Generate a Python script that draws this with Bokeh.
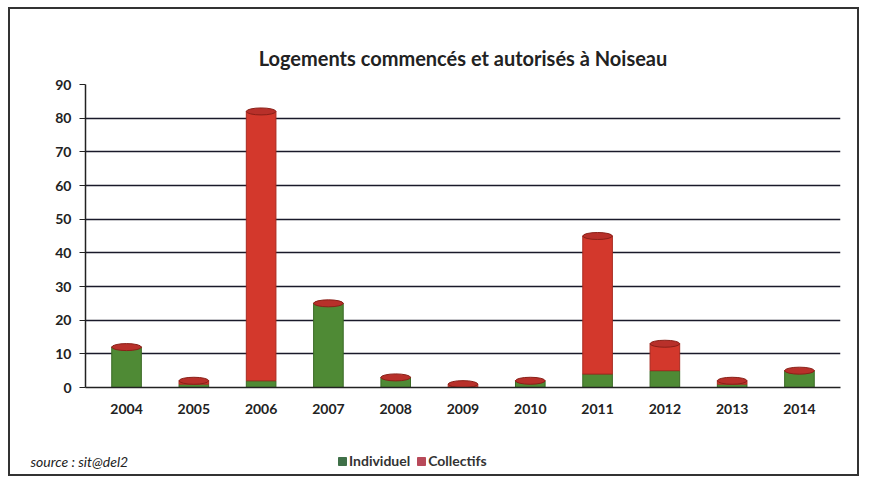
import numpy as np
from bokeh.plotting import figure
from bokeh.layouts import column
from bokeh.models import ColumnDataSource, Legend, LegendItem, Label, FactorRange
from bokeh.embed import file_html
from bokeh.resources import INLINE

years = ["2004", "2005", "2006", "2007", "2008", "2009", "2010", "2011", "2012", "2013", "2014"]
individuel = [12, 1, 2, 25, 3, 0, 2, 4, 5, 1, 5]
collectifs = [0, 1, 80, 0, 0, 1, 0, 41, 8, 1, 0]
y_ticks = [0, 10, 20, 30, 40, 50, 60, 70, 80, 90]
series_labels = ["Individuel", "Collectifs"]
source_text = "source : sit@del2"

totals = [a + b for a, b in zip(individuel, collectifs)]
src = ColumnDataSource(dict(x=years, individuel=individuel, collectifs=collectifs, total=totals))

GREEN = "#4f8a35"
RED = "#d3382c"
FONT = "Lato"
W = 847

p = figure(x_range=FactorRange(*years), y_range=(0, 90), width=W, height=424,
           output_backend="svg", toolbar_location=None,
           min_border_left=75, min_border_right=17, min_border_top=75, min_border_bottom=46)
p.frame_align = False

r = p.vbar_stack(["individuel", "collectifs"], x="x", width=0.44, source=src,
                 color=[GREEN, RED], line_color=["#3a6a25", "#a82a20"])
p.ellipse(x="x", y="total", width=0.44, height=7, height_units="screen", source=src,
          fill_color="#b8302a", line_color="#8a2018")

p.title.text = "Logements commencés et autorisés à Noiseau"
p.title.align = "center"
p.title.text_font = FONT
p.title.text_font_size = "20px"
p.title.text_font_style = "bold"
p.title.text_color = "#222222"
p.title.standoff = 29

p.yaxis.ticker = y_ticks
p.yaxis.major_label_text_font = FONT
p.yaxis.major_label_text_font_size = "14px"
p.yaxis.major_label_text_font_style = "bold"
p.yaxis.major_label_text_color = "#222222"
p.yaxis.axis_line_color = "#222222"
p.yaxis.major_tick_line_color = "#222222"
p.yaxis.major_tick_out = 6
p.yaxis.major_tick_in = 0
p.yaxis.major_label_standoff = 8
p.yaxis.minor_tick_line_color = None
p.yaxis.axis_line_width = 1.5

p.xaxis.major_label_text_font = FONT
p.xaxis.major_label_text_font_size = "14px"
p.xaxis.major_label_text_font_style = "bold"
p.xaxis.major_label_text_color = "#222222"
p.xaxis.axis_line_color = "#222222"
p.xaxis.axis_line_width = 1.5
p.xaxis.major_tick_line_color = None
p.xaxis.major_label_standoff = 10

p.xgrid.grid_line_color = None
p.ygrid.grid_line_color = "#1a1a2a"
p.ygrid.grid_line_width = 1.5
p.outline_line_color = None
p.x_range.range_padding = 0.02

# bottom strip: source note and legend
p2 = figure(width=W, height=41, x_range=(0, 1), y_range=(0, 1), output_backend="svg",
            toolbar_location=None, min_border=0)
p2.frame_align = False
p2.axis.visible = False
p2.grid.visible = False
p2.outline_line_color = None
empty = dict(x=np.array([np.nan]), top=np.array([np.nan]))
g1 = p2.vbar(x="x", top="top", width=0.1, color="#3f7048", source=ColumnDataSource(empty))
g2 = p2.vbar(x="x", top="top", width=0.1, color="#b84a5a", source=ColumnDataSource(dict(empty)))
legend = Legend(items=[LegendItem(label=series_labels[0], renderers=[g1]),
                       LegendItem(label=series_labels[1], renderers=[g2])],
                orientation="horizontal", location=(327, 5),
                label_text_font=FONT, label_text_font_size="14px", label_text_font_style="bold",
                label_text_color="#333333", glyph_width=10, glyph_height=10,
                border_line_color=None, background_fill_alpha=0, spacing=6, padding=2,
                margin=0, label_standoff=2, label_height=14)
p2.add_layout(legend)
p2.add_layout(Label(x=20, y=5, x_units="screen", y_units="screen", text=source_text,
                    text_font=FONT, text_font_size="14px", text_font_style="italic",
                    text_color="#222222"))

layout = column(p, p2, spacing=0)
layout.styles = {"border": "2px solid #333333", "transform": "translate(8px, 7px)"}

open("out.html", "w").write(file_html(layout, INLINE))
